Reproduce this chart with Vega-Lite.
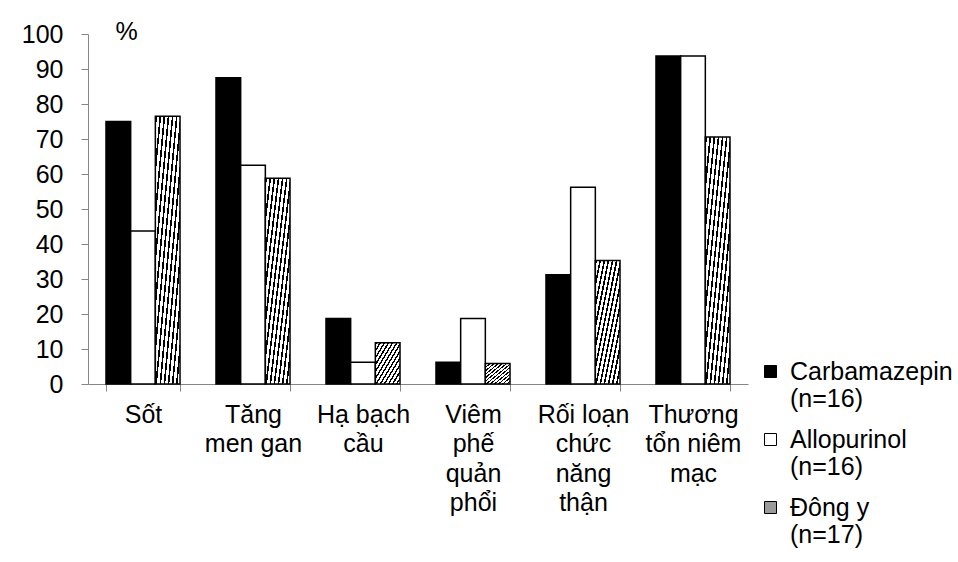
{
  "$schema": "https://vega.github.io/schema/vega-lite/v6.json",
  "width": 660,
  "height": 350,
  "autosize": "none",
  "padding": {"left": 88, "top": 34, "right": 210, "bottom": 178},
  "background": "white",
  "config": {"font": "Liberation Sans", "view": {"stroke": null}},
  "data": {
    "values": [
      {"cat": "Sốt", "group": "Carbamazepin (n=16)", "pct": 75},
      {"cat": "Sốt", "group": "Allopurinol (n=16)", "pct": 43.75},
      {"cat": "Sốt", "group": "Đông y (n=17)", "pct": 76.47},
      {"cat": "Tăng men gan", "group": "Carbamazepin (n=16)", "pct": 87.5},
      {"cat": "Tăng men gan", "group": "Allopurinol (n=16)", "pct": 62.5},
      {"cat": "Tăng men gan", "group": "Đông y (n=17)", "pct": 58.82},
      {"cat": "Hạ bạch cầu", "group": "Carbamazepin (n=16)", "pct": 18.75},
      {"cat": "Hạ bạch cầu", "group": "Allopurinol (n=16)", "pct": 6.25},
      {"cat": "Hạ bạch cầu", "group": "Đông y (n=17)", "pct": 11.76},
      {"cat": "Viêm phế quản phổi", "group": "Carbamazepin (n=16)", "pct": 6.25},
      {"cat": "Viêm phế quản phổi", "group": "Allopurinol (n=16)", "pct": 18.75},
      {"cat": "Viêm phế quản phổi", "group": "Đông y (n=17)", "pct": 5.88},
      {"cat": "Rối loạn chức năng thận", "group": "Carbamazepin (n=16)", "pct": 31.25},
      {"cat": "Rối loạn chức năng thận", "group": "Allopurinol (n=16)", "pct": 56.25},
      {"cat": "Rối loạn chức năng thận", "group": "Đông y (n=17)", "pct": 35.29},
      {"cat": "Thương tổn niêm mạc", "group": "Carbamazepin (n=16)", "pct": 93.75},
      {"cat": "Thương tổn niêm mạc", "group": "Allopurinol (n=16)", "pct": 93.75},
      {"cat": "Thương tổn niêm mạc", "group": "Đông y (n=17)", "pct": 70.59}
    ]
  },
  "mark": {"type": "bar", "stroke": "black", "strokeWidth": 1.5},
  "encoding": {
    "x": {
      "field": "cat",
      "type": "nominal",
      "sort": null,
      "scale": {"paddingInner": 0.327, "paddingOuter": 0.1636},
      "axis": {
        "title": null,
        "labelAngle": 0,
        "labelFontSize": 25,
        "labelColor": "black",
        "labelLineHeight": 29.5,
        "labelBaseline": "top",
        "labelPadding": 11,
        "labelLimit": 0,
        "tickSize": 7,
        "tickColor": "#868686",
        "domainColor": "#868686",
        "tickBand": "extent",
        "labelExpr": "{'Sốt': ['Sốt'], 'Tăng men gan': ['Tăng', 'men gan'], 'Hạ bạch cầu': ['Hạ bạch', 'cầu'], 'Viêm phế quản phổi': ['Viêm', 'phế', 'quản', 'phổi'], 'Rối loạn chức năng thận': ['Rối loạn', 'chức', 'năng', 'thận'], 'Thương tổn niêm mạc': ['Thương', 'tổn niêm', 'mạc']}[datum.value]"
      }
    },
    "xOffset": {
      "field": "group",
      "type": "nominal",
      "sort": null,
      "scale": {"paddingInner": 0, "paddingOuter": 0}
    },
    "y": {
      "field": "pct",
      "type": "quantitative",
      "scale": {"domain": [0, 100], "nice": false},
      "axis": {
        "values": [0, 10, 20, 30, 40, 50, 60, 70, 80, 90, 100],
        "title": "%",
        "titleAngle": 0,
        "titleX": 38,
        "titleY": -3,
        "titleFontSize": 25,
        "titleFontWeight": "normal",
        "titleAlign": "center",
        "titleBaseline": "middle",
        "titleColor": "black",
        "labelFontSize": 25,
        "labelColor": "black",
        "labelPadding": 18,
        "tickSize": 7,
        "grid": false,
        "domainColor": "#868686",
        "tickColor": "#868686"
      }
    },
    "fill": {
      "field": "group",
      "type": "nominal",
      "sort": null,
      "condition": {
        "test": "datum.group === 'Đông y (n=17)'",
        "value": {
          "gradient": "linear",
          "x1": 0, "y1": 0, "x2": 1, "y2": 1,
          "stops": [
            {"offset": 0, "color": "#000000"}, {"offset": 0.033, "color": "#000000"}, {"offset": 0.033, "color": "#ffffff"}, {"offset": 0.0833, "color": "#ffffff"},
            {"offset": 0.0833, "color": "#000000"}, {"offset": 0.1163, "color": "#000000"}, {"offset": 0.1163, "color": "#ffffff"}, {"offset": 0.1667, "color": "#ffffff"},
            {"offset": 0.1667, "color": "#000000"}, {"offset": 0.1997, "color": "#000000"}, {"offset": 0.1997, "color": "#ffffff"}, {"offset": 0.25, "color": "#ffffff"},
            {"offset": 0.25, "color": "#000000"}, {"offset": 0.283, "color": "#000000"}, {"offset": 0.283, "color": "#ffffff"}, {"offset": 0.3333, "color": "#ffffff"},
            {"offset": 0.3333, "color": "#000000"}, {"offset": 0.3663, "color": "#000000"}, {"offset": 0.3663, "color": "#ffffff"}, {"offset": 0.4167, "color": "#ffffff"},
            {"offset": 0.4167, "color": "#000000"}, {"offset": 0.4497, "color": "#000000"}, {"offset": 0.4497, "color": "#ffffff"}, {"offset": 0.5, "color": "#ffffff"},
            {"offset": 0.5, "color": "#000000"}, {"offset": 0.533, "color": "#000000"}, {"offset": 0.533, "color": "#ffffff"}, {"offset": 0.5833, "color": "#ffffff"},
            {"offset": 0.5833, "color": "#000000"}, {"offset": 0.6163, "color": "#000000"}, {"offset": 0.6163, "color": "#ffffff"}, {"offset": 0.6667, "color": "#ffffff"},
            {"offset": 0.6667, "color": "#000000"}, {"offset": 0.6997, "color": "#000000"}, {"offset": 0.6997, "color": "#ffffff"}, {"offset": 0.75, "color": "#ffffff"},
            {"offset": 0.75, "color": "#000000"}, {"offset": 0.783, "color": "#000000"}, {"offset": 0.783, "color": "#ffffff"}, {"offset": 0.8333, "color": "#ffffff"},
            {"offset": 0.8333, "color": "#000000"}, {"offset": 0.8663, "color": "#000000"}, {"offset": 0.8663, "color": "#ffffff"}, {"offset": 0.9167, "color": "#ffffff"},
            {"offset": 0.9167, "color": "#000000"}, {"offset": 0.9497, "color": "#000000"}, {"offset": 0.9497, "color": "#ffffff"}, {"offset": 1, "color": "#ffffff"}
          ]
        }
      },
      "scale": {
        "domain": ["Carbamazepin (n=16)", "Allopurinol (n=16)", "Đông y (n=17)"],
        "range": ["#000000", "#ffffff", "#9a9a9a"]
      },
      "legend": {
        "orient": "none",
        "legendX": 670,
        "legendY": 325,
        "title": null,
        "symbolType": "square",
        "symbolSize": 144,
        "symbolStrokeColor": "black",
        "symbolStrokeWidth": 1,
        "labelFontSize": 25,
        "labelColor": "black",
        "labelLimit": 400,
        "labelOffset": 7,
        "labelLineHeight": 28.5,
        "rowPadding": 15,
        "labelExpr": "[slice(datum.label, 0, indexof(datum.label, ' (')), slice(datum.label, indexof(datum.label, ' (') + 1)]",
        "encode": {
          "symbols": {
            "enter": {
              "fill": {
                "signal": "{gradient: 'linear', x1: 0, y1: 0, x2: 1, y2: 1, stops: [{offset: 0, color: '#000'}, {offset: 0.07, color: '#000'}, {offset: 0.07, color: '#fff'}, {offset: 0.1667, color: '#fff'}, {offset: 0.1667, color: '#000'}, {offset: 0.2367, color: '#000'}, {offset: 0.2367, color: '#fff'}, {offset: 0.3333, color: '#fff'}, {offset: 0.3333, color: '#000'}, {offset: 0.4033, color: '#000'}, {offset: 0.4033, color: '#fff'}, {offset: 0.5, color: '#fff'}, {offset: 0.5, color: '#000'}, {offset: 0.57, color: '#000'}, {offset: 0.57, color: '#fff'}, {offset: 0.6667, color: '#fff'}, {offset: 0.6667, color: '#000'}, {offset: 0.7367, color: '#000'}, {offset: 0.7367, color: '#fff'}, {offset: 0.8333, color: '#fff'}, {offset: 0.8333, color: '#000'}, {offset: 0.9033, color: '#000'}, {offset: 0.9033, color: '#fff'}, {offset: 1, color: '#fff'}]}"
              }
            },
            "update": {
              "stroke": {"value": "black"},
              "strokeWidth": {"value": 1},
              "fill": {
                "signal": "datum.value === 'Carbamazepin (n=16)' ? '#000000' : datum.value === 'Allopurinol (n=16)' ? '#ffffff' : {gradient: 'linear', x1: 0, y1: 0, x2: 1, y2: 1, stops: [{offset: 0, color: '#000'}, {offset: 0.07, color: '#000'}, {offset: 0.07, color: '#fff'}, {offset: 0.1667, color: '#fff'}, {offset: 0.1667, color: '#000'}, {offset: 0.2367, color: '#000'}, {offset: 0.2367, color: '#fff'}, {offset: 0.3333, color: '#fff'}, {offset: 0.3333, color: '#000'}, {offset: 0.4033, color: '#000'}, {offset: 0.4033, color: '#fff'}, {offset: 0.5, color: '#fff'}, {offset: 0.5, color: '#000'}, {offset: 0.57, color: '#000'}, {offset: 0.57, color: '#fff'}, {offset: 0.6667, color: '#fff'}, {offset: 0.6667, color: '#000'}, {offset: 0.7367, color: '#000'}, {offset: 0.7367, color: '#fff'}, {offset: 0.8333, color: '#fff'}, {offset: 0.8333, color: '#000'}, {offset: 0.9033, color: '#000'}, {offset: 0.9033, color: '#fff'}, {offset: 1, color: '#fff'}]}"
              }
            }
          }
        }
      }
    }
  }
}
